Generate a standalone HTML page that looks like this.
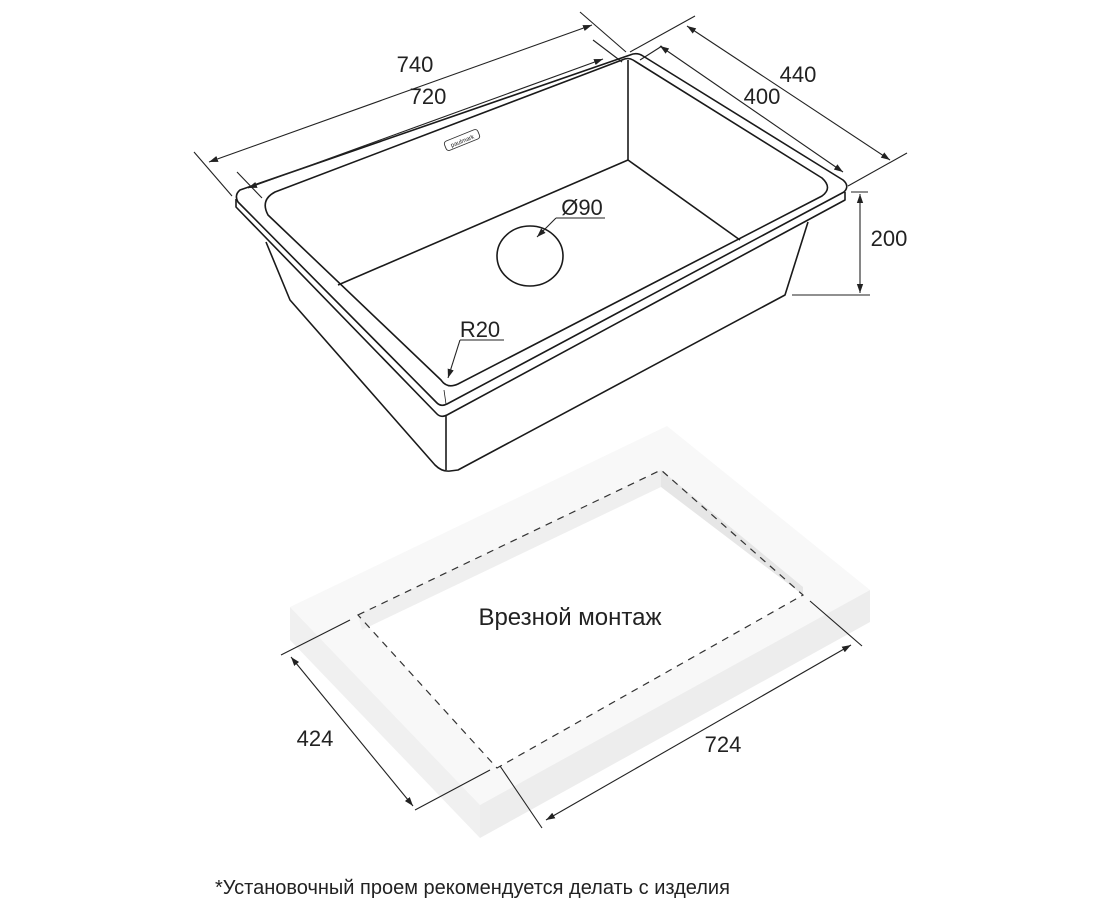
<!DOCTYPE html>
<html><head><meta charset="utf-8"><style>
html,body{margin:0;padding:0;background:#fff;}
svg{display:block;}
text{font-family:"Liberation Sans",sans-serif;fill:#222;}
</style></head><body>
<svg width="1100" height="900" viewBox="0 0 1100 900" xmlns="http://www.w3.org/2000/svg">
<defs>
<marker id="a" viewBox="0 0 10 10" refX="10" refY="5" markerWidth="9" markerHeight="9" orient="auto-start-reverse" markerUnits="userSpaceOnUse"><path d="M0,1.5 L10,5 L0,8.5 z" fill="#222"/></marker>
</defs>
<!-- Countertop -->
<g>
<polygon points="290,607 667,426 870,590 480,805" fill="#f8f8f8"/>
<polygon points="290,607 480,805 480,838 290,640" fill="#f0f0f0"/>
<polygon points="480,805 870,590 870,622 480,838" fill="#ededed"/>
<polygon points="358,615 661,470 803,595 497,768" fill="#fff"/>
<polygon points="661,470 803,587 803,595 661,487" fill="#e6e6e6"/>
<polygon points="358,615 661,470 661,487 362,630" fill="#efefef"/>
<polygon points="358,615 661,470 803,595 497,768" fill="none" stroke="#333" stroke-width="1.2" stroke-dasharray="7,6"/>
</g>
<text x="570" y="625" font-size="24" text-anchor="middle">Врезной монтаж</text>
<g stroke="#222" stroke-width="1.1" fill="none">
<line x1="281" y1="655" x2="350" y2="620"/>
<line x1="415" y1="810" x2="490" y2="770"/>
<line x1="291" y1="657" x2="413" y2="806" marker-start="url(#a)" marker-end="url(#a)"/>
<line x1="500" y1="766" x2="542" y2="828"/>
<line x1="810" y1="601" x2="862" y2="646"/>
<line x1="546" y1="820" x2="851" y2="645" marker-start="url(#a)" marker-end="url(#a)"/>
</g>
<text x="315" y="746" font-size="22" text-anchor="middle">424</text>
<text x="723" y="752" font-size="22" text-anchor="middle">724</text>

<!-- Sink -->
<g stroke="#1a1a1a" stroke-width="1.6" fill="none" stroke-linejoin="round">
<path d="M266,242 L290,300 L435,465 Q442,472 450,471 L458,470 L785,295 L808,222"/>
<line x1="446" y1="416" x2="446" y2="470"/>
<path d="M240,190 L630,55 Q637,52 643,56 L843,180 Q850,186 844,192 L447,404 Q441,407 437,403 L238,202 Q234,195 240,190 Z"/>
<path d="M236,199 L236,207 L437,414 Q441,418 447,415 L845,200 L845,192"/>
<path d="M275,192 L622,60 Q628,57 633,60 L822,178 Q833,188 822,196 L458,384 Q447,389 441,380 L268,215 Q260,200 275,192 Z"/>
<line x1="628" y1="60" x2="628" y2="160"/>
<line x1="628" y1="160" x2="338" y2="285"/>
<line x1="628" y1="160" x2="740" y2="240"/>
<line x1="444" y1="390" x2="446" y2="404" stroke-width="0.8"/>
<ellipse cx="530" cy="256" rx="33" ry="30"/>
</g>
<g transform="translate(462,140) rotate(-22)"><rect x="-18" y="-5" width="36" height="10" rx="3" fill="none" stroke="#333" stroke-width="0.9"/><text x="0" y="3" font-size="6" text-anchor="middle">paulmark</text></g>
<g stroke="#222" stroke-width="1.1" fill="none">
<line x1="556" y1="218" x2="605" y2="218"/>
<line x1="556" y1="218" x2="537" y2="237" marker-end="url(#a)"/>
<line x1="460" y1="340" x2="504" y2="340"/>
<line x1="460" y1="340" x2="448" y2="378" marker-end="url(#a)"/>
</g>
<text x="582" y="215" font-size="22" text-anchor="middle">Ø90</text>
<text x="480" y="337" font-size="22" text-anchor="middle">R20</text>
<g stroke="#222" stroke-width="1.1" fill="none">
<line x1="194" y1="152" x2="232" y2="196"/>
<line x1="580" y1="12" x2="626" y2="52"/>
<line x1="209" y1="162" x2="592" y2="25" marker-start="url(#a)" marker-end="url(#a)"/>
<line x1="237" y1="172" x2="262" y2="198"/>
<line x1="593" y1="40" x2="622" y2="62"/>
<line x1="248" y1="188" x2="603" y2="59" marker-start="url(#a)" marker-end="url(#a)"/>
<line x1="630" y1="52" x2="695" y2="16"/>
<line x1="848" y1="186" x2="907" y2="153"/>
<line x1="687" y1="26" x2="890" y2="160" marker-start="url(#a)" marker-end="url(#a)"/>
<line x1="640" y1="60" x2="662" y2="46"/>
<line x1="660" y1="46" x2="843" y2="172" marker-start="url(#a)" marker-end="url(#a)"/>
<line x1="851" y1="192" x2="868" y2="192"/>
<line x1="792" y1="295" x2="870" y2="295"/>
<line x1="860" y1="194" x2="860" y2="293" marker-start="url(#a)" marker-end="url(#a)"/>
</g>
<text x="415" y="72" font-size="22" text-anchor="middle">740</text>
<text x="428" y="104" font-size="22" text-anchor="middle">720</text>
<text x="798" y="82" font-size="22" text-anchor="middle">440</text>
<text x="762" y="104" font-size="22" text-anchor="middle">400</text>
<text x="889" y="246" font-size="22" text-anchor="middle">200</text>
<text x="215" y="894" font-size="20">*Установочный проем рекомендуется делать с изделия</text>
</svg>
</body></html>
